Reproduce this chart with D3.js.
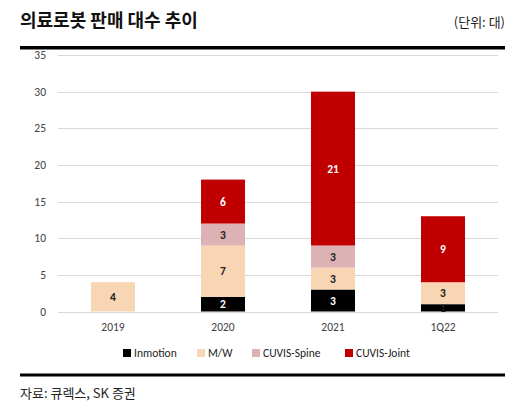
<!DOCTYPE html>
<html><head><meta charset="utf-8">
<script src="https://cdn.jsdelivr.net/npm/d3@7"></script>
<style>body{margin:0;background:#fff}svg{display:block}</style>
</head><body>
<script>
const categories = ["2019","2020","2021","1Q22"];
const seriesNames = ["Inmotion","M/W","CUVIS-Spine","CUVIS-Joint"];
const inmotion = [0,2,3,1];
const mw = [4,7,3,3];
const spine = [0,3,3,0];
const joint = [0,6,21,9];
const yTicks = [0,5,10,15,20,25,30,35];
const colors = ["#000000","#F8D5B3","#DDB2B4","#C00000"];
const labelColors = ["#ffffff","#222222","#222222","#ffffff"];
const labelColorsSmall = ["#222222"];

const W=521,H=412;
const svg=d3.select("body").append("svg").attr("width",W).attr("height",H);
const font="'Noto Sans CJK KR','Noto Sans',sans-serif";
const lfont="Calibri,'Carlito','Open Sans','Noto Sans',sans-serif";

svg.append("text").attr("x",20).attr("y",27).attr("font-family",font).attr("font-weight",700)
  .attr("font-size",18).attr("fill","#111").text("의료로봇 판매 대수 추이");
svg.append("text").attr("x",505).attr("y",27).attr("text-anchor","end").attr("font-family",font)
  .attr("font-size",13).attr("fill","#222").text("(단위: 대)");
svg.append("rect").attr("x",20).attr("y",46).attr("width",485).attr("height",3.5).attr("fill","#000");
svg.append("rect").attr("x",20).attr("y",373.5).attr("width",485).attr("height",3).attr("fill","#000");
svg.append("text").attr("x",20).attr("y",398).attr("font-family",font)
  .attr("font-size",13).attr("fill","#222").text("자료: 큐렉스, SK 증권");

const x=d3.scaleBand().domain(categories).range([58,498]).paddingInner(0.6).paddingOuter(0.3);
const y=d3.scaleLinear().domain([0,35]).range([311.5,55]);

const g=svg.append("g");
g.selectAll("line.grid").data(yTicks).join("line").attr("class","grid")
  .attr("x1",58).attr("x2",498).attr("y1",d=>Math.round(y(d))+0.5).attr("y2",d=>Math.round(y(d))+0.5)
  .attr("stroke","#d9d9d9").attr("stroke-width",1);
const yAxis=d3.axisLeft(y).tickValues(yTicks).tickSize(0).tickPadding(0);
const ya=svg.append("g").attr("transform","translate(46,0)").call(yAxis);
ya.select(".domain").remove();
ya.selectAll("text").attr("font-family",lfont).attr("font-size",11.5).attr("fill","#404040");

const xAxis=d3.axisBottom(x).tickSize(0).tickPadding(0);
const xa=svg.append("g").attr("transform","translate(0,323)").call(xAxis);
xa.select(".domain").remove();
xa.selectAll("text").attr("font-family",lfont).attr("font-size",11.5).attr("fill","#404040");

const rows=categories.map((c,i)=>({cat:c,"Inmotion":inmotion[i],"M/W":mw[i],"CUVIS-Spine":spine[i],"CUVIS-Joint":joint[i]}));
const stack=d3.stack().keys(seriesNames)(rows);
stack.forEach((s,si)=>{
  const gs=svg.append("g");
  s.forEach((d,i)=>{
    const v=d[1]-d[0];
    if(v<=0) return;
    gs.append("rect").attr("x",x(d.data.cat)).attr("width",x.bandwidth())
      .attr("y",y(d[1])).attr("height",y(d[0])-y(d[1])).attr("fill",colors[si]);
    gs.append("text").attr("x",x(d.data.cat)+x.bandwidth()/2).attr("y",(y(d[0])+y(d[1]))/2+4)
      .attr("text-anchor","middle").attr("font-family",lfont).attr("font-weight",700).attr("font-size",11.5)
      .attr("fill",(si===0&&v<2)?"#1a1a2a":labelColors[si]).text(v);
  });
});

const legX=[123,197,252,345];
const lg=svg.append("g");
seriesNames.forEach((n,i)=>{
  lg.append("rect").attr("x",legX[i]).attr("y",349).attr("width",8).attr("height",8).attr("fill",colors[i]);
  lg.append("text").attr("x",legX[i]+11).attr("y",357).attr("font-family",lfont).attr("font-size",11.5)
    .attr("fill","#222").text(n);
});
</script>
</body></html>
